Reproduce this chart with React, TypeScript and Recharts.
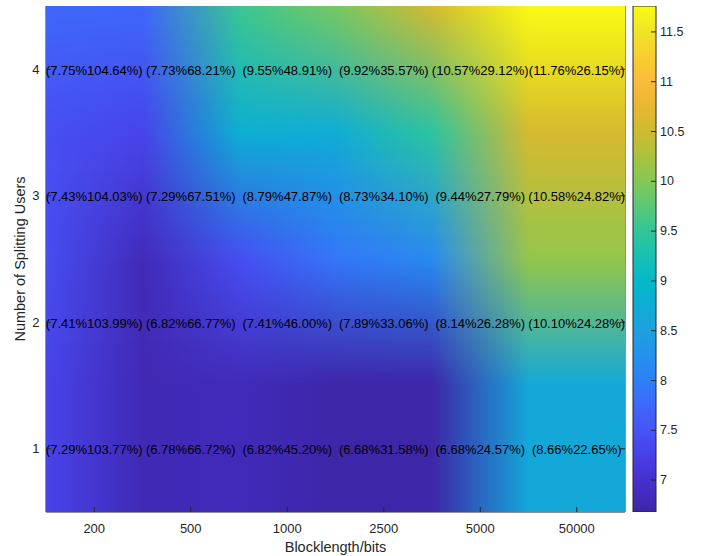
import React from 'react';
import {
  ScatterChart, Scatter, ComposedChart, Bar, XAxis, YAxis,
} from 'recharts';

// categories
const blockLengths = ['200', '500', '1000', '2500', '5000', '50000'];
const users = [1, 2, 3, 4];

// rate (%) per number of splitting users (rows, 1..4) and blocklength (cols)
const rateRows = [
  [7.29, 6.78, 6.82, 6.68, 6.68, 8.66],
  [7.41, 6.82, 7.41, 7.89, 8.14, 10.10],
  [7.43, 7.29, 8.79, 8.73, 9.44, 10.58],
  [7.75, 7.73, 9.55, 9.92, 10.57, 11.76],
];
const ratioRows = [
  [103.77, 66.72, 45.20, 31.58, 24.57, 22.65],
  [103.99, 66.77, 46.00, 33.06, 26.28, 24.28],
  [104.03, 67.51, 47.87, 34.10, 27.79, 24.82],
  [104.64, 68.21, 48.91, 35.57, 29.12, 26.15],
];
const colorbarTicks = [7, 7.5, 8, 8.5, 9, 9.5, 10, 10.5, 11, 11.5];

const VMIN = Math.min(...rateRows.flat());
const VMAX = Math.max(...rateRows.flat());

// layout
const W = 701, H = 556;
const PLOT_L = 46, PLOT_R = 625, PLOT_T = 6, PLOT_B = 512;
const CB_L = 633, CB_R = 656;
const CW = (PLOT_R - PLOT_L) / blockLengths.length;
const CH = (PLOT_B - PLOT_T) / users.length;
const AX = '#262626';
const FONT = '"Liberation Sans", Arial, Helvetica, sans-serif';

// parula-like colormap anchors [t, r, g, b]
const PARULA: number[][] = [
  [0.000, 62, 38, 168], [0.063, 70, 48, 206], [0.112, 72, 64, 232],
  [0.161, 70, 84, 245], [0.211, 62, 104, 250], [0.260, 45, 128, 246],
  [0.309, 37, 145, 236], [0.358, 30, 160, 225], [0.407, 14, 173, 212],
  [0.457, 4, 185, 200], [0.506, 24, 192, 180], [0.555, 50, 197, 152],
  [0.604, 90, 200, 118], [0.654, 132, 200, 85], [0.703, 170, 194, 62],
  [0.752, 205, 187, 46], [0.801, 232, 183, 50], [0.850, 252, 186, 58],
  [0.900, 248, 206, 48], [0.949, 240, 228, 38], [1.000, 249, 251, 20],
];

function parulaRGB(t: number) {
  const c = Math.max(0, Math.min(1, t));
  let k = 0;
  while (k < PARULA.length - 2 && PARULA[k + 1][0] < c) k++;
  const a = PARULA[k], b = PARULA[k + 1];
  const f = (c - a[0]) / (b[0] - a[0]);
  return [1, 2, 3].map((i) => a[i] + (b[i] - a[i]) * f);
}
const rgbOf = (v: number) => parulaRGB((v - VMIN) / (VMAX - VMIN));
const mix = (a: number[], b: number[], f: number) => a.map((x, i) => x + (b[i] - x) * f);
const css = (c: number[]) => `rgb(${Math.round(c[0])},${Math.round(c[1])},${Math.round(c[2])})`;

const cells: any[] = [];
for (let row = users.length - 1; row >= 0; row--) {
  for (let col = 0; col < blockLengths.length; col++) {
    cells.push({ x: col + 1, y: row + 1, row, col, rate: rateRows[row][col], ratio: ratioRows[row][col] });
  }
}

// shaded patch for one cell: colours sit on the cell's top-left corner and blend bilinearly
function HeatPatch(props: any) {
  const { cx, cy, payload } = props;
  const { row, col } = payload;
  const nc = blockLengths.length;
  const at = (r: number, c: number) => rgbOf(rateRows[Math.max(r, 0)][Math.min(c, nc - 1)]);
  const tl = at(row, col), tr = at(row, col + 1), bl = at(row - 1, col), br = at(row - 1, col + 1);
  const x0 = cx - CW / 2, y0 = cy - CH / 2;
  const flat = row === 0;
  const n = flat ? 1 : Math.ceil(CH / 2);
  const sh = CH / n;
  const extraW = col < nc - 1 ? 1 : 0;
  const strips = [];
  for (let k = 0; k < n; k++) {
    const w = (k + 0.5) / n;
    const L = mix(tl, bl, w);
    const R = mix(tr, br, w);
    const id = `hp-${row}-${col}-${k}`;
    const extraH = k < n - 1 ? 0.8 : (row > 0 ? 1 : 0);
    strips.push(
      <g key={k}>
        <defs>
          <linearGradient id={id} x1="0" y1="0" x2="1" y2="0">
            <stop offset={0} stopColor={css(L)} />
            <stop offset={1} stopColor={css(R)} />
          </linearGradient>
        </defs>
        <rect x={x0} y={y0 + k * sh} width={CW + extraW} height={sh + extraH} fill={`url(#${id})`} />
      </g>,
    );
  }
  return <g>{strips}</g>;
}

function CellLabel(props: any) {
  const { cx, cy, payload } = props;
  return (
    <text x={cx} y={cy + 1} textAnchor="middle" dominantBaseline="central" fontSize={13} fontFamily={FONT} fill="#000">
      {`(${payload.rate.toFixed(2)}%${payload.ratio.toFixed(2)}%)`}
    </text>
  );
}

function ColorbarShape(props: any) {
  const { x, y, width, height } = props;
  return (
    <g>
      <defs>
        <linearGradient id="cbGrad" x1="0" y1="1" x2="0" y2="0">
          {PARULA.map((a, i) => (
            <stop key={i} offset={a[0]} stopColor={`rgb(${a[1]},${a[2]},${a[3]})`} />
          ))}
        </linearGradient>
      </defs>
      <rect x={x} y={y} width={width} height={height} fill="url(#cbGrad)" stroke={AX} strokeWidth={1} />
    </g>
  );
}

const colorbarData = [{ k: 'cb', range: [VMIN, VMAX] }];

const BottomTick = (p: any) => (
  <g>
    <line x1={p.x} x2={p.x} y1={PLOT_B} y2={PLOT_B - 5} stroke={AX} />
    <text x={p.x} y={PLOT_B + 16} textAnchor="middle" dominantBaseline="central" fontSize={13} fontFamily={FONT} fill={AX}>
      {blockLengths[p.payload.value - 1]}
    </text>
  </g>
);
const TopTick = (p: any) => <line x1={p.x} x2={p.x} y1={PLOT_T} y2={PLOT_T + 5} stroke={AX} />;
const LeftTick = (p: any) => (
  <g>
    <line x1={PLOT_L} x2={PLOT_L + 5} y1={p.y} y2={p.y} stroke={AX} />
    <text x={PLOT_L - 6.5} y={p.y} textAnchor="end" dominantBaseline="central" fontSize={13} fontFamily={FONT} fill={AX}>
      {p.payload.value}
    </text>
  </g>
);
const RightTick = (p: any) => <line x1={PLOT_R} x2={PLOT_R - 5} y1={p.y} y2={p.y} stroke={AX} />;
const ColorbarTick = (p: any) => (
  <g>
    <line x1={CB_R} x2={CB_R - 5} y1={p.y} y2={p.y} stroke={AX} />
    <text x={CB_R + 4} y={p.y} textAnchor="start" dominantBaseline="central" fontSize={12.5} fontFamily={FONT} fill={AX}>
      {String(p.payload.value)}
    </text>
  </g>
);

export default function App() {
  return (
    <div style={{ position: 'fixed', left: 0, top: 0, width: W, height: H, background: '#fff' }}>
      <div style={{ position: 'absolute', left: 0, top: 0 }}>
        <ScatterChart width={W} height={H} margin={{ top: PLOT_T, right: 0, bottom: 0, left: 0 }}>
          <XAxis
            dataKey="x" type="number" domain={[0.5, 6.5]} ticks={[1, 2, 3, 4, 5, 6]} allowDataOverflow
            height={H - PLOT_B} tickLine={false} axisLine={{ stroke: AX }} tick={BottomTick} interval={0}
            label={{
              content: () => (
                <text x={(PLOT_L + PLOT_R) / 2} y={547} textAnchor="middle" dominantBaseline="central" fontSize={14.5} fontFamily={FONT} fill={AX}>
                  Blocklength/bits
                </text>
              ),
            }}
          />
          <XAxis
            xAxisId="top" orientation="top" type="number" domain={[0.5, 6.5]} ticks={[1, 2, 3, 4, 5, 6]} allowDataOverflow
            height={0} tickLine={false} axisLine={{ stroke: AX }} tick={TopTick} interval={0}
          />
          <YAxis
            dataKey="y" type="number" domain={[0.5, 4.5]} ticks={users} allowDataOverflow
            width={PLOT_L} tickLine={false} axisLine={{ stroke: AX }} tick={LeftTick} interval={0}
            label={{
              content: () => (
                <text x={20} y={(PLOT_T + PLOT_B) / 2} transform={`rotate(-90 20 ${(PLOT_T + PLOT_B) / 2})`} textAnchor="middle" dominantBaseline="central" fontSize={14.5} fontFamily={FONT} fill={AX}>
                  Number of Splitting Users
                </text>
              ),
            }}
          />
          <YAxis
            yAxisId="right" orientation="right" type="number" domain={[0.5, 4.5]} ticks={users} allowDataOverflow
            width={W - PLOT_R} tickLine={false} axisLine={{ stroke: AX }} tick={RightTick} interval={0}
          />
          <Scatter data={cells} shape={HeatPatch} isAnimationActive={false} />
          <Scatter data={cells} shape={CellLabel} isAnimationActive={false} />
        </ScatterChart>
      </div>
      <div style={{ position: 'absolute', left: 0, top: 0 }}>
        <ComposedChart
          width={W} height={H} data={colorbarData} barCategoryGap={0}
          margin={{ top: PLOT_T, right: 0, bottom: H - PLOT_B, left: CB_L }}
        >
          <XAxis dataKey="k" type="category" hide />
          <YAxis
            orientation="right" type="number" domain={[VMIN, VMAX]} ticks={colorbarTicks} allowDataOverflow
            width={W - CB_R} tickLine={false} axisLine={false} tick={ColorbarTick} interval={0}
          />
          <Bar dataKey="range" shape={ColorbarShape} isAnimationActive={false} />
        </ComposedChart>
      </div>
    </div>
  );
}
